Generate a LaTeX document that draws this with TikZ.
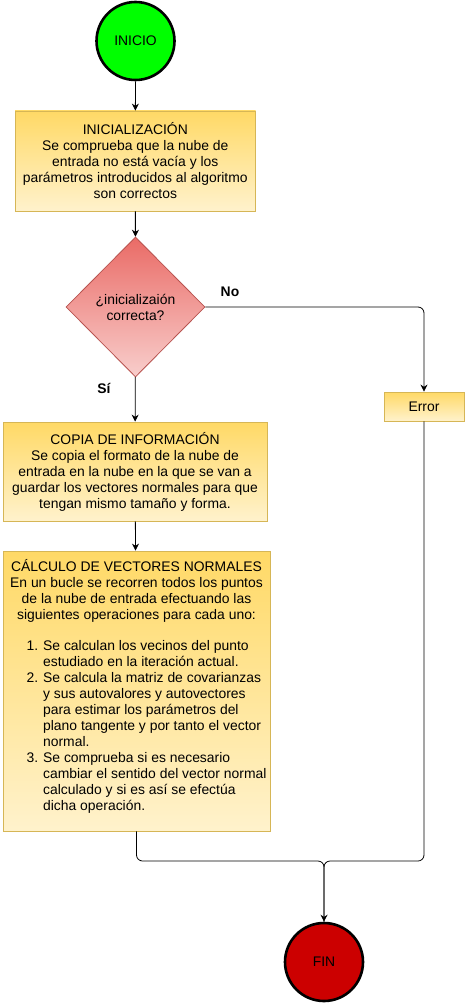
\documentclass[tikz,border=0pt]{standalone}
\usepackage{fontspec}
\setmainfont{Liberation Sans}
\usetikzlibrary{shapes.geometric,arrows.meta}
\definecolor{amarilloA}{HTML}{FFD966}
\definecolor{amarilloB}{HTML}{FFF2CC}
\definecolor{bordeAm}{HTML}{D6B656}
\definecolor{rojoA}{HTML}{EA6B66}
\definecolor{rojoB}{HTML}{F8CECC}
\definecolor{bordeRo}{HTML}{B85450}
\definecolor{verde}{HTML}{00FF00}
\definecolor{rojoFin}{HTML}{CC0000}
\begin{document}
\begin{tikzpicture}[x=1pt,y=-1pt,
  every node/.style={font=\fontsize{13.9}{16}\selectfont},
  caja/.style={draw=bordeAm, line width=0.8pt, top color=amarilloA, bottom color=amarilloB, align=center, inner sep=0pt},
  terminal/.style={circle, draw, line width=2.6pt, minimum size=78pt, inner sep=0pt},
  flecha/.style={-{Stealth[length=7pt,width=7pt]}, line width=0.8pt},
  linea/.style={line width=0.8pt, rounded corners=6pt},
  etiqueta/.style={font=\fontsize{13.9}{16}\selectfont\bfseries}]
\useasboundingbox (0,0) rectangle (465,1003);
% nodos
\node[terminal, fill=verde] (inicio) at (135.5,41) {INICIO};
\node[caja, minimum width=240.5pt, minimum height=100pt] (init) at (135.3,161)
  {INICIALIZACIÓN\\Se comprueba que la nube de\\entrada no está vacía y los\\parámetros introducidos al algoritmo\\son correctos};
\node[diamond, draw=bordeRo, line width=0.8pt, top color=rojoA, bottom color=rojoB, align=center,
  minimum width=139pt, minimum height=140pt, inner sep=0pt] (dec) at (135.5,307)
  {¿inicializaión\\correcta?};
\node[caja, minimum width=80pt, minimum height=29pt] (err) at (424,406.5) {Error};
\node[caja, minimum width=264pt, minimum height=99pt] (copia) at (135,471.5)
  {COPIA DE INFORMACIÓN\\Se copia el formato de la nube de\\entrada en la nube en la que se van a\\guardar los vectores normales para que\\tengan mismo tamaño y forma.};
\node[caja, minimum width=267pt, minimum height=280pt] (calc) at (136.5,691)
  {CÁLCULO DE VECTORES NORMALES\\En un bucle se recorren todos los puntos\\de la nube de entrada efectuando las\\siguientes operaciones para cada uno:\\[16pt]
   \hspace*{20pt}\begin{tabular}{@{}r@{\hspace{5pt}}l@{}}
   1. & Se calculan los vecinos del punto\\
      & estudiado en la iteración actual.\\
   2. & Se calcula la matriz de covarianzas\\
      & y sus autovalores y autovectores\\
      & para estimar los parámetros del\\
      & plano tangente y por tanto el vector\\
      & normal.\\
   3. & Se comprueba si es necesario\\
      & cambiar el sentido del vector normal\\
      & calculado y si es así se efectúa\\
      & dicha operación.
   \end{tabular}\\[6pt]};
\node[terminal, fill=rojoFin] (fin) at (324,962) {FIN};
\coordinate (union) at (324,861);
% conectores
\draw[flecha] (inicio) -- (init);
\draw[flecha] (init) -- (dec);
\draw[flecha] (dec) -- (copia);
\draw[flecha] (copia) -- (calc);
\draw[flecha, linea] (dec.east) -| (err.north);
\draw[linea] (calc.south) |- (union) -- (fin.north);
\draw[flecha, linea] (err.south) |- (union) -- (fin.north);
\node[etiqueta] (no) at (230,292) {No};
\node[etiqueta] (si) at (104,388) {Sí};
\end{tikzpicture}
\end{document}
